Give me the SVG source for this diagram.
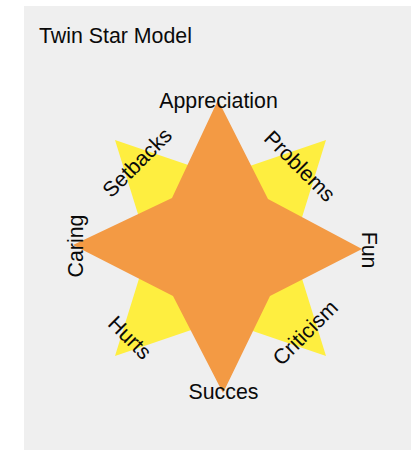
<svg xmlns="http://www.w3.org/2000/svg" width="411" height="450" viewBox="0 0 411 450">
  <style>
    text { font-family: "Liberation Sans", Arial, Helvetica, sans-serif; font-size: 21.33px; fill: #0A0A0A; }
    .lbl { text-anchor: middle; }
    .yellow { fill: #FEEE40; }
    .orange { fill: #F39A44; }
  </style>
  <rect x="0" y="0" width="411" height="450" fill="#FFFFFF"/>
  <rect id="panel" x="24" y="6" width="387" height="444" fill="#EFEFEF"/>
  <g id="title"><text x="39" y="43">Twin Star Model</text></g>
  <g id="yellow-star">
    <polygon class="yellow" points="115,140 220.5,176 326,140 292.5,248 326,356 220.5,320 115,356 148.5,248"/>
  </g>
  <g id="orange-star">
    <polygon class="orange" points="218,100 268,199 362,249 270,296 223,393 173,296 73,245 172,198"/>
  </g>
  <g id="label-appreciation"><text class="lbl" transform="translate(218.5,100.5)" y="7.5">Appreciation</text></g>
  <g id="label-problems"><text class="lbl" transform="translate(300,166) rotate(45)" y="7.5">Problems</text></g>
  <g id="label-fun"><text class="lbl" transform="translate(369,250) rotate(90)" y="7.5">Fun</text></g>
  <g id="label-criticism"><text class="lbl" transform="translate(305,332.5) rotate(-45)" y="7.5">Criticism</text></g>
  <g id="label-succes"><text class="lbl" transform="translate(223.5,391)" y="7.5">Succes</text></g>
  <g id="label-hurts"><text class="lbl" transform="translate(130,337.5) rotate(45)" y="7.5">Hurts</text></g>
  <g id="label-caring"><text class="lbl" transform="translate(75.5,246) rotate(-90)" y="7.5">Caring</text></g>
  <g id="label-setbacks"><text class="lbl" transform="translate(137,162.5) rotate(-45)" y="7.5">Setbacks</text></g>
</svg>
